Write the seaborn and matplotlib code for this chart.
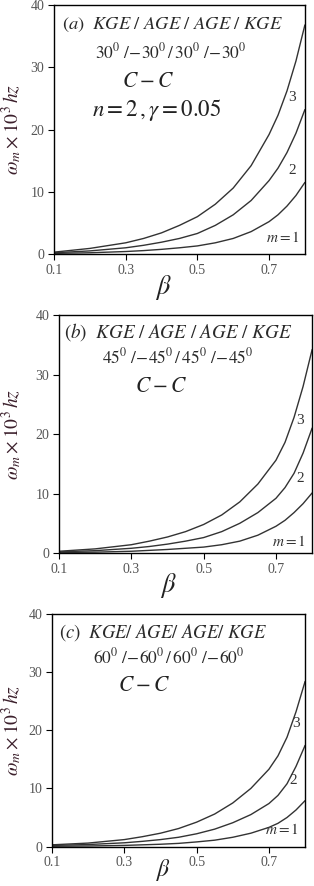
import numpy as np
import pandas as pd
import matplotlib
matplotlib.use("Agg")
import matplotlib.pyplot as plt
import seaborn as sns

sns.set_theme(style="white")
plt.rcParams['font.family'] = ['Liberation Serif', 'DejaVu Serif']
plt.rcParams['mathtext.fontset'] = 'stix'

beta = [0.1, 0.2, 0.3, 0.35, 0.4, 0.45, 0.5, 0.55, 0.6, 0.65, 0.7, 0.725, 0.75, 0.775, 0.8]

a_m1 = [0.1, 0.2, 0.4, 0.55, 0.75, 1.0, 1.3, 1.8, 2.5, 3.6, 5.2, 6.3, 7.7, 9.4, 11.5]
a_m2 = [0.2, 0.5, 1.0, 1.4, 1.9, 2.5, 3.3, 4.6, 6.3, 8.6, 11.8, 13.8, 16.3, 19.4, 23.2]
a_m3 = [0.3, 0.9, 1.8, 2.5, 3.4, 4.6, 6.0, 8.0, 10.6, 14.2, 19.2, 22.3, 26.2, 31.0, 36.8]

b_m1 = [0.1, 0.15, 0.3, 0.45, 0.6, 0.8, 1.0, 1.4, 2.0, 3.0, 4.5, 5.5, 6.8, 8.3, 10.1]
b_m2 = [0.2, 0.4, 0.8, 1.1, 1.5, 2.0, 2.6, 3.6, 5.0, 6.8, 9.2, 11.0, 13.4, 16.8, 21.0]
b_m3 = [0.3, 0.7, 1.4, 2.0, 2.7, 3.6, 4.8, 6.4, 8.6, 11.6, 15.6, 18.6, 22.8, 28.0, 34.2]

c_m1 = [0.05, 0.1, 0.2, 0.3, 0.4, 0.55, 0.8, 1.1, 1.6, 2.3, 3.3, 4.0, 5.0, 6.3, 7.9]
c_m2 = [0.2, 0.35, 0.65, 0.9, 1.2, 1.6, 2.2, 3.0, 4.1, 5.5, 7.4, 8.8, 10.8, 13.8, 17.4]
c_m3 = [0.3, 0.6, 1.2, 1.7, 2.3, 3.1, 4.2, 5.6, 7.5, 10.0, 13.3, 15.6, 18.8, 23.2, 28.4]

xticks = [0.1, 0.3, 0.5, 0.7]
yticks = [0, 10, 20, 30, 40]

panels = [
    dict(head=r"$(a)\ \ KGE\ /\ AGE\ /\ AGE\ /\ KGE$",
         angles=r"$30^0\ /\!-\!30^0\,/\,30^0\ /\!-\!30^0$",
         m=[a_m1, a_m2, a_m3], extra=r"$n=2\,,\gamma=0.05$",
         rect=[0.172, 0.7133, 0.799, 0.281],
         pos=dict(head=(0.03, 0.92), ang=(0.163, 0.81), cc=(0.27, 0.687),
                  ex=(0.151, 0.578), l3=(0.948, 0.627), l2=(0.948, 0.337), l1=(0.98, 0.068)),
         hs=13.3, xlab=(0.435, -0.075), xls=19, ylab=-0.12),
    dict(head=r"$(b)\ \ KGE\ /\ AGE\ /\ AGE\ /\ KGE$",
         angles=r"$45^0\ /\!-\!45^0\,/\,45^0\ /\!-\!45^0$",
         m=[b_m1, b_m2, b_m3], extra=None,
         rect=[0.188, 0.3758, 0.806, 0.2686],
         pos=dict(head=(0.018, 0.929), ang=(0.17, 0.823), cc=(0.30, 0.697),
                  l3=(0.953, 0.555), l2=(0.953, 0.315), l1=(0.975, 0.05)),
         hs=13.8, xlab=(0.43, -0.075), xls=19, ylab=-0.138),
    dict(head=r"$(c)\ \ KGE/\ AGE/\ AGE/\ KGE$",
         angles=r"$60^0\ /\!-\!60^0\,/\,60^0\ /\!-\!60^0$",
         m=[c_m1, c_m2, c_m3], extra=None,
         rect=[0.1656, 0.0445, 0.806, 0.2625],
         pos=dict(head=(0.026, 0.919), ang=(0.162, 0.813), cc=(0.26, 0.689),
                  l3=(0.963, 0.528), l2=(0.953, 0.285), l1=(0.975, 0.072)),
         hs=13.4, xlab=(0.44, -0.045), xls=17, ylab=-0.111),
]

fig = plt.figure(figsize=(3.14, 8.86), dpi=100)
line_col = "#333333"
tick_col = "#555555"
txt_col = "#2a2a2a"

for i, p in enumerate(panels):
    ax = fig.add_axes(p["rect"])
    rows = []
    for k, vals in enumerate(p["m"]):
        for b, v in zip(beta, vals):
            rows.append({"beta": b, "omega": v, "mode": f"m{k+1}"})
    df = pd.DataFrame(rows)
    sns.lineplot(data=df, x="beta", y="omega", hue="mode", palette=[line_col] * 3,
                 linewidth=1.0, legend=False, ax=ax)
    ax.set_xlim(0.1, 0.8)
    ax.set_ylim(0, 40)
    ax.set_xticks(xticks)
    ax.set_xticklabels([f"{t:.1f}" for t in xticks])
    ax.set_yticks(yticks)
    ax.tick_params(direction="out", length=4, width=0.8, color="black",
                   labelsize=10, labelcolor=tick_col, pad=3,
                   bottom=True, left=True)
    for s in ax.spines.values():
        s.set_color("black")
        s.set_linewidth(1.0)
    ax.set_xlabel(r"$\beta$", fontsize=p["xls"], color="#222222")
    ax.xaxis.set_label_coords(*p["xlab"])
    ax.set_ylabel(r"$\omega_m\times10^3\,hz$", fontsize=14, color="#3b1f2b")
    ax.yaxis.set_label_coords(p["ylab"], 0.5)

    P = p["pos"]
    ax.text(*P["head"], p["head"], transform=ax.transAxes,
            fontsize=p["hs"], color=txt_col, va="center", ha="left")
    ax.text(*P["ang"], p["angles"], transform=ax.transAxes, fontsize=12.5,
            color=txt_col, va="center", ha="left")
    ax.text(*P["cc"], r"$C-C$", transform=ax.transAxes,
            fontsize=15.5, color="#222222", va="center", ha="left")
    if p["extra"]:
        ax.text(*P["ex"], p["extra"], transform=ax.transAxes, fontsize=16.5,
                color="#222222", va="center", ha="left")
    ax.text(*P["l3"], "3", transform=ax.transAxes, fontsize=11,
            color="#333333", va="center", ha="center")
    ax.text(*P["l2"], "2", transform=ax.transAxes, fontsize=11,
            color="#333333", va="center", ha="center")
    ax.text(*P["l1"], r"$m=1$", transform=ax.transAxes, fontsize=11,
            color="#333333", va="center", ha="right")

fig.savefig("out.png", dpi=100, facecolor="white")
